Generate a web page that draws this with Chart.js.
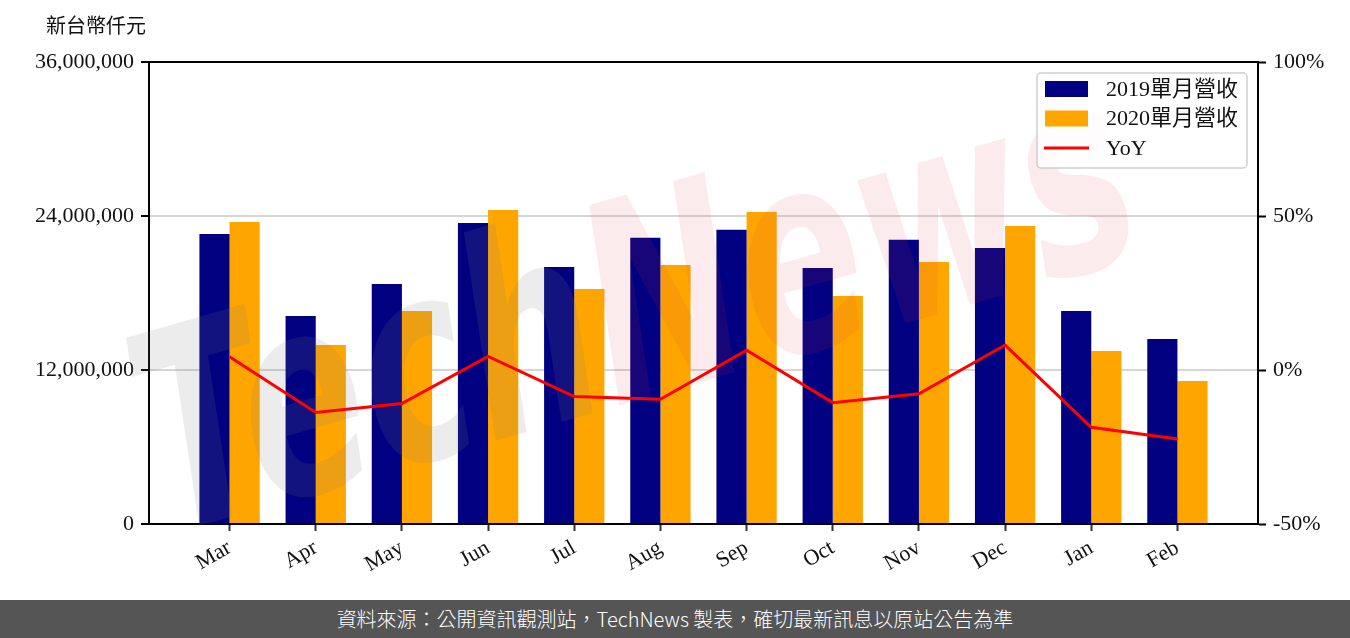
<!DOCTYPE html>
<html>
<head>
<meta charset="utf-8">
<script src="https://cdn.jsdelivr.net/npm/chart.js@4"></script>
<style>
  body { margin: 0; background: #fff; }
  #wrap { position: relative; width: 1350px; height: 600px; }
  #foot { width: 1350px; height: 38px; background: #555; color: #fff; text-align: center;
          font: 300 20px "Noto Sans CJK TC", sans-serif; line-height: 38px; }
</style>
</head>
<body>
<div id="wrap"><canvas id="chart"></canvas></div>
<div id="foot">資料來源：公開資訊觀測站，TechNews 製表，確切最新訊息以原站公告為準</div>
<script>
// monthly revenue, 新台幣仟元
const months = ['Mar', 'Apr', 'May', 'Jun', 'Jul', 'Aug', 'Sep', 'Oct', 'Nov', 'Dec', 'Jan', 'Feb'];
const rev2019 = [22600000, 16210000, 18710000, 23460000, 20030000, 22310000, 22920000, 19950000, 22140000, 21510000, 16600000, 14420000];
const rev2020 = [23540000, 13950000, 16600000, 24470000, 18320000, 20190000, 24320000, 17770000, 20420000, 23230000, 13480000, 11150000];
const yoy = [4.3, -13.8, -10.9, 4.4, -8.6, -9.5, 6.4, -10.6, -7.7, 8.1, -18.6, -22.4];
const seriesNames = ['2019單月營收', '2020單月營收', 'YoY'];
const unitLabel = '新台幣仟元';
const leftTicks = [0, 12000000, 24000000, 36000000];
const rightTicks = [-50, 0, 50, 100];

const FONT = '"Liberation Serif", "Noto Sans CJK TC", serif';
Chart.defaults.font.family = FONT;
Chart.defaults.font.size = 22;
Chart.defaults.color = '#111';

const toPoints = arr => arr.map((v, i) => ({ x: i, y: v }));

const frame = {
    id: 'frame',
    afterDraw(chart) {
        const ctx = chart.ctx, a = chart.chartArea;
        ctx.save();
        ctx.strokeStyle = '#000';
        ctx.lineWidth = 2;
        ctx.beginPath();
        ctx.moveTo(a.left - 1, a.top);
        ctx.lineTo(a.right + 1, a.top);
        ctx.stroke();
        // unit label above left axis
        ctx.fillStyle = '#111';
        ctx.font = '20px ' + FONT;
        ctx.textAlign = 'center';
        ctx.textBaseline = 'middle';
        ctx.fillText(unitLabel, 96, 28);
        ctx.restore();
    }
};

const watermark = {
    id: 'watermark',
    beforeDatasetDraw(chart, args) {
        if (args.meta.type !== 'line') return;
        const ctx = chart.ctx;
        ctx.save();
        ctx.translate(640, 325);
        ctx.rotate(-16 * Math.PI / 180);
        ctx.scale(0.72, 1.08);
        ctx.font = 'italic bold 255px "DejaVu Sans"';
        ctx.textBaseline = 'middle';
        const w1 = ctx.measureText('Tech').width;
        const w2 = ctx.measureText('News').width;
        const x0 = -(w1 + w2) / 2;
        ctx.fillStyle = 'rgba(128,128,128,0.15)';
        ctx.fillText('Tech', x0, 0);
        ctx.fillStyle = 'rgba(220,60,70,0.1)';
        ctx.fillText('News', x0 + w1, 0);
        ctx.restore();
    }
};

const legendBox = {
    id: 'legendBox',
    afterDraw(chart) {
        const ctx = chart.ctx, a = chart.chartArea;
        const w = 210, h = 95;
        const x = a.right - 11 - w, y = a.top + 11;
        ctx.save();
        ctx.fillStyle = 'rgba(255,255,255,0.85)';
        ctx.strokeStyle = '#cfcfcf';
        ctx.lineWidth = 1.5;
        ctx.beginPath();
        ctx.roundRect(x, y, w, h, 4);
        ctx.fill();
        ctx.stroke();
        ctx.font = '22px ' + FONT;
        ctx.textBaseline = 'middle';
        chart.data.datasets.forEach((ds, i) => {
            const cy = y + 16 + i * 29.5;
            if (ds.type === 'line') {
                ctx.strokeStyle = ds.borderColor;
                ctx.lineWidth = 3;
                ctx.beginPath();
                ctx.moveTo(x + 7, cy);
                ctx.lineTo(x + 52, cy);
                ctx.stroke();
            } else {
                ctx.fillStyle = ds.backgroundColor;
                ctx.fillRect(x + 8, cy - 8, 43, 16);
            }
            ctx.fillStyle = '#111';
            ctx.fillText(ds.label, x + 69, cy + 1);
        });
        ctx.restore();
    }
};

new Chart(document.getElementById('chart'), {
    type: 'bar',
    data: {
        datasets: [
            { type: 'bar', label: seriesNames[0], data: toPoints(rev2019), backgroundColor: '#000080', yAxisID: 'y', order: 1 },
            { type: 'bar', label: seriesNames[1], data: toPoints(rev2020), backgroundColor: '#ffa500', yAxisID: 'y', order: 1 },
            { type: 'line', label: seriesNames[2], data: toPoints(yoy), borderColor: '#ff0000', borderWidth: 3,
              pointRadius: 0, tension: 0, yAxisID: 'y1', order: 0 }
        ]
    },
    options: {
        responsive: true,
        maintainAspectRatio: false,
        animation: false,
        categoryPercentage: 0.7,
        barPercentage: 1,
        layout: { padding: { top: 62, left: 0, right: 0, bottom: 0 } },
        plugins: { legend: { display: false }, tooltip: { enabled: false } },
        scales: {
            x: {
                type: 'linear',
                offset: false,
                min: -0.935,
                max: 11.935,
                afterBuildTicks(scale) { scale.ticks = months.map((m, i) => ({ value: i })); },
                afterFit(scale) { scale.height = 76; },
                ticks: {
                    autoSkip: false,
                    minRotation: 30,
                    maxRotation: 30,
                    padding: 4,
                    callback: (v) => months[v]
                },
                grid: { offset: false, drawOnChartArea: false, tickColor: '#333', tickLength: 7, tickWidth: 2 },
                border: { color: '#000', width: 2 }
            },
            y: {
                position: 'left',
                min: 0,
                max: 36000000,
                afterBuildTicks(scale) { scale.ticks = leftTicks.map(v => ({ value: v })); },
                afterFit(scale) { scale.width = 149; },
                ticks: {
                    padding: 7,
                    callback: (v) => v.toLocaleString('en-US')
                },
                grid: { color: '#d6d6d6', lineWidth: 2, tickColor: '#000', tickLength: 8, tickWidth: 2 },
                border: { color: '#000', width: 2 }
            },
            y1: {
                position: 'right',
                min: -50,
                max: 100,
                afterBuildTicks(scale) { scale.ticks = rightTicks.map(v => ({ value: v })); },
                afterFit(scale) { scale.width = 92; },
                ticks: {
                    padding: 7,
                    callback: (v) => v + '%'
                },
                grid: { drawOnChartArea: false, tickColor: '#000', tickLength: 8, tickWidth: 2 },
                border: { color: '#000', width: 2 }
            }
        }
    },
    plugins: [frame, watermark, legendBox]
});
</script>
</body>
</html>
